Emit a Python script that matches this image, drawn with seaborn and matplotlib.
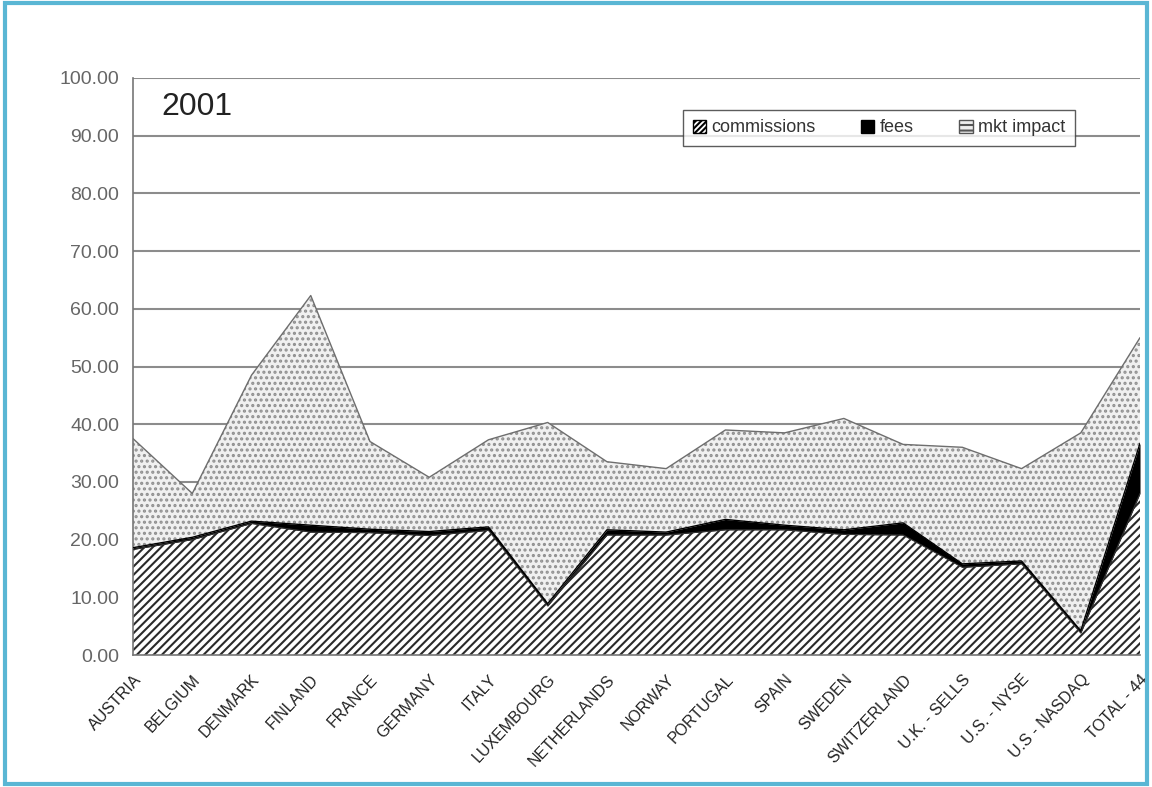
import numpy as np
import pandas as pd
import seaborn as sns
import matplotlib.pyplot as plt
from matplotlib.patches import Rectangle, Patch

sns.set_style("white")
plt.rcParams["font.family"] = ["Liberation Sans", "DejaVu Sans"]
plt.rcParams["hatch.linewidth"] = 1.5

# values (cost components, stacked)
markets = ["AUSTRIA", "BELGIUM", "DENMARK", "FINLAND", "FRANCE", "GERMANY", "ITALY",
           "LUXEMBOURG", "NETHERLANDS", "NORWAY", "PORTUGAL", "SPAIN", "SWEDEN",
           "SWITZERLAND", "U.K. - SELLS", "U.S. - NYSE", "U.S - NASDAQ", "TOTAL - 44"]
commissions = [18.3, 20.0, 22.8, 21.3, 21.2, 20.7, 21.6, 8.5, 20.8, 20.8,
               21.7, 21.7, 20.9, 20.8, 15.2, 15.8, 3.8, 28.0]
fees = [0.3, 0.4, 0.4, 1.2, 0.6, 0.7, 0.6, 0.4, 0.9, 0.5,
        1.8, 0.8, 0.8, 2.1, 0.6, 0.5, 0.4, 8.7]
mkt_impact = [18.9, 7.6, 25.3, 39.8, 15.2, 9.4, 15.1, 31.4, 11.8, 11.0,
              15.5, 16.0, 19.3, 13.6, 20.2, 16.0, 34.3, 18.3]

df = pd.DataFrame({"market": markets, "commissions": commissions,
                   "fees": fees, "mkt impact": mkt_impact})
df["pos"] = range(len(df))
df["top_comm"] = df["commissions"]
df["top_fees"] = df["commissions"] + df["fees"]
df["top_all"] = df["top_fees"] + df["mkt impact"]

fig = plt.figure(figsize=(11.52, 7.87), dpi=100)
ax = fig.add_axes([0.1155, 0.1677, 0.8741, 0.7332])

polys = ax.stackplot(df["pos"], df["commissions"], df["fees"], df["mkt impact"],
                     colors=["white", "black", "#f0f0f0"], linewidth=0, zorder=2)
polys[0].set_hatch("////")
polys[0].set_edgecolor("#2a2a2a")
polys[1].set_edgecolor("black")
polys[2].set_hatch("...")
polys[2].set_edgecolor("#8f8f8f")

sns.lineplot(data=df, x="pos", y="top_comm", color="#333333", linewidth=0.8, ax=ax, zorder=3)
sns.lineplot(data=df, x="pos", y="top_fees", color="black", linewidth=1.0, ax=ax, zorder=3)
sns.lineplot(data=df, x="pos", y="top_all", color="#6e6e6e", linewidth=1.0, ax=ax, zorder=3)

ax.set_xlim(0, len(df) - 1)
ax.set_ylim(0, 100)
ax.set_yticks(np.arange(0, 101, 10))
ax.set_yticklabels([f"{v:.2f}" for v in np.arange(0, 101, 10)], fontsize=14, color="#666666")
ax.set_xticks(df["pos"])
ax.set_xticklabels(df["market"], rotation=47, ha="right", rotation_mode="anchor",
                   fontsize=11.5, color="#222222")
ax.set_xlabel("")
ax.set_ylabel("")
ax.yaxis.grid(True, color="#8c8c8c", linewidth=1.5, zorder=0)
ax.set_axisbelow(True)
ax.tick_params(axis="both", length=5, width=1, color="#777777", direction="out")
ax.tick_params(axis="x", pad=7)
ax.tick_params(axis="y", pad=5)
for s in ["top", "right"]:
    ax.spines[s].set_visible(False)
for s in ["left", "bottom"]:
    ax.spines[s].set_color("#777777")
    ax.spines[s].set_linewidth(1.2)

ax.text(0.028, 0.975, "2001", transform=ax.transAxes, fontsize=23, va="top",
        color="#222222")

handles = [Patch(facecolor="white", edgecolor="black", hatch="//////", label="commissions"),
           Patch(facecolor="black", edgecolor="black", label="fees"),
           Patch(facecolor="#eeeeee", edgecolor="#555555", hatch="---", label="mkt impact")]
leg = ax.legend(handles=handles, ncol=3, loc="upper right", bbox_to_anchor=(0.9445, 0.961),
                fontsize=13, frameon=True, fancybox=False, handlelength=0.75,
                handleheight=0.75, handletextpad=0.3, columnspacing=2.5,
                borderpad=0.55)
leg.get_frame().set_edgecolor("#333333")
leg.get_frame().set_linewidth(1.0)
for t in leg.get_texts():
    t.set_color("#333333")

fig.patches.append(Rectangle((0.004, 0.004), 0.992, 0.992, transform=fig.transFigure,
                             fill=False, edgecolor="#5ab6d4", linewidth=3))

fig.savefig("out.png", dpi=100)
